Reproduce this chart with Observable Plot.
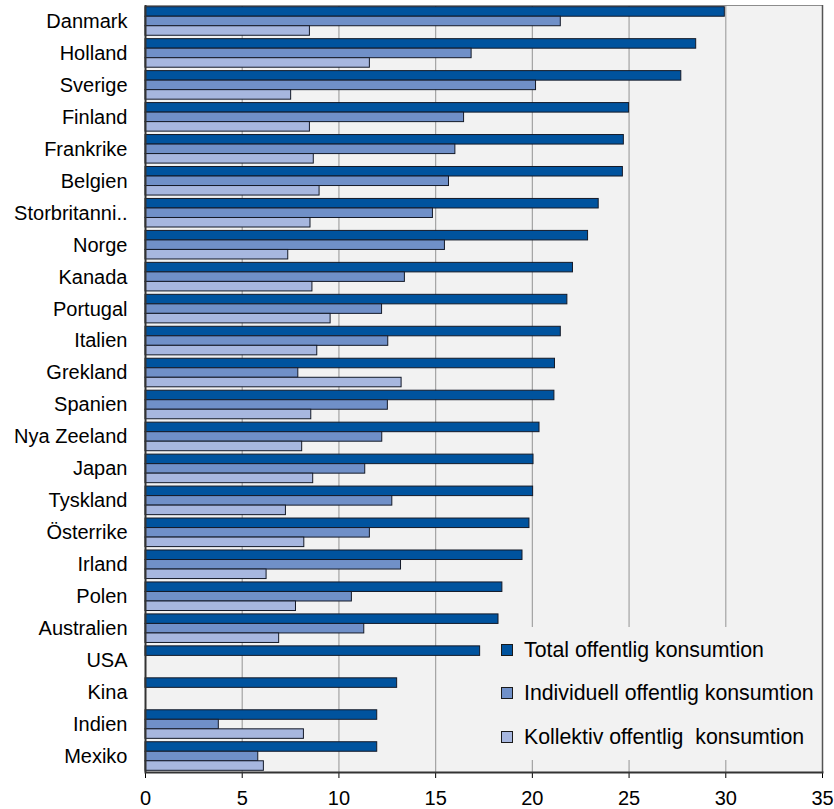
<!DOCTYPE html>
<html>
<head>
<meta charset="utf-8">
<script src="https://cdn.jsdelivr.net/npm/d3@7"></script>
<script src="https://cdn.jsdelivr.net/npm/@observablehq/plot@0.6"></script>
<style>
  html, body { margin: 0; padding: 0; background: #fff; }
  #wrap { position: relative; width: 834px; height: 809px; font-family: "Liberation Sans", Arial, sans-serif; }
  #wrap svg { display: block; }
  #legend { position: absolute; left: 490px; top: 627px; width: 330px; height: 133px; background: #f2f2f2; }
  .item { position: absolute; left: 11px; height: 24px; display: flex; align-items: center; font-size: 21.3px; color: #000; white-space: pre; }
  .sw { width: 10px; height: 10px; border: 1px solid #1a1a1a; margin-right: 11px; flex: none; }
</style>
</head>
<body>
<div id="wrap"><div id="legend"></div></div>
<script>
const countries = ["Danmark","Holland","Sverige","Finland","Frankrike","Belgien","Storbritanni..","Norge","Kanada","Portugal","Italien","Grekland","Spanien","Nya Zeeland","Japan","Tyskland","Österrike","Irland","Polen","Australien","USA","Kina","Indien","Mexiko"];
const total =       [29.95, 28.47, 27.7, 25.0, 24.73, 24.68, 23.43, 22.88, 22.1, 21.81, 21.47, 21.17, 21.14, 20.37, 20.06, 20.04, 19.85, 19.49, 18.45, 18.25, 17.3, 13.01, 11.98, 11.98];
const individuell = [21.47, 16.86, 20.19, 16.47, 16.02, 15.69, 14.86, 15.48, 13.41, 12.23, 12.55, 7.9, 12.53, 12.24, 11.36, 12.76, 11.6, 13.21, 10.67, 11.31, null, null, 3.79, 5.83];
const kollektiv =   [8.5, 11.6, 7.53, 8.5, 8.7, 9.0, 8.53, 7.38, 8.63, 9.57, 8.88, 13.24, 8.57, 8.1, 8.67, 7.26, 8.21, 6.26, 7.78, 6.91, null, null, 8.19, 6.12];
const seriesNames = ["Total offentlig konsumtion", "Individuell offentlig konsumtion", "Kollektiv offentlig  konsumtion"];
const colors = ["#00539e", "#7090c8", "#a7b7df"];
const xTicks = [0, 5, 10, 15, 20, 25, 30, 35];

const rows = countries.map((c, i) => ({country: c, total: total[i], individuell: individuell[i], kollektiv: kollektiv[i]}));

const W = 834, H = 809, mT = 5, mB = 37, mL = 145, mR = 12;
const bw = (H - mT - mB) / countries.length;
const pad = 1.7;
const step = (bw - 2 * pad) / 3;
const keys = ["total", "individuell", "kollektiv"];

const barMarks = keys.map((k, i) => Plot.barX(rows.filter(d => d[k] != null), {
  x: k, y: "country", fill: colors[i], stroke: "#141a28", strokeWidth: 1,
  insetTop: pad + i * step, insetBottom: bw - pad - (i + 1) * step
}));

const chart = Plot.plot({
  width: W, height: H,
  marginTop: mT, marginBottom: mB, marginLeft: mL, marginRight: mR,
  style: {fontFamily: "'Liberation Sans', Arial, sans-serif", fontSize: "20px", color: "#000", background: "transparent"},
  x: {domain: [0, 35], ticks: xTicks, tickSize: 6, tickPadding: 12, label: null},
  y: {domain: countries, padding: 0, round: false, tickSize: 0, tickPadding: 18, label: null},
  marks: [
    Plot.frame({fill: "#f2f2f2", stroke: null}),
    Plot.gridX(xTicks.filter(t => t > 0 && t < 35), {stroke: "#a3a3a3", strokeOpacity: 1, strokeWidth: 1.2}),
    ...barMarks,
    Plot.frame({stroke: "#8c8c8c", strokeWidth: 1}),
    Plot.ruleX([35], {stroke: "#555", strokeWidth: 1.5}),
    Plot.ruleX([0], {stroke: "#333", strokeWidth: 2}),
    Plot.frame({anchor: "bottom", stroke: "#333", strokeWidth: 2})
  ]
});
document.getElementById("wrap").prepend(chart);

const legend = document.getElementById("legend");
const rowCenters = [23, 66, 110];
seriesNames.forEach((name, i) => {
  const it = document.createElement("div");
  it.className = "item";
  it.style.top = (rowCenters[i] - 12) + "px";
  const sw = document.createElement("span");
  sw.className = "sw";
  sw.style.background = colors[i];
  it.appendChild(sw);
  it.appendChild(document.createTextNode(name));
  legend.appendChild(it);
});
</script>
</body>
</html>
